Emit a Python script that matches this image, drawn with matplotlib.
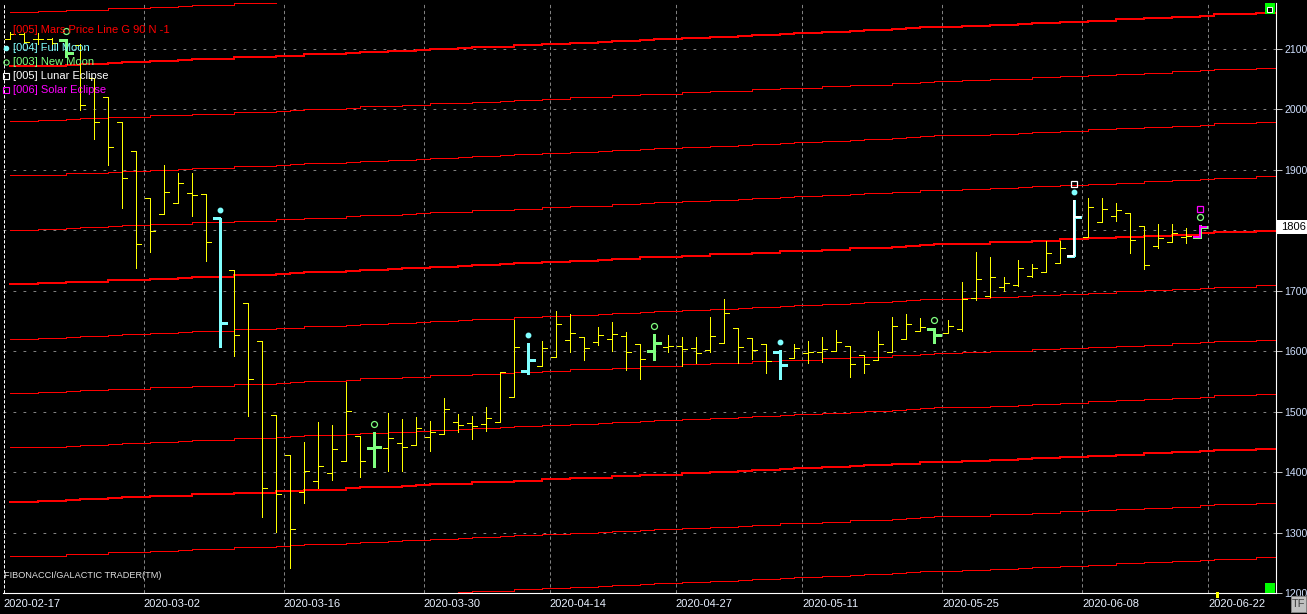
import matplotlib
matplotlib.use('Agg')
import matplotlib.pyplot as plt
from matplotlib.patches import Rectangle
from matplotlib.lines import Line2D
from matplotlib import transforms
import numpy as np

W, H = 1307, 614

# date ticks (bar index -> label)
tick_idx = [0, 10, 20, 30, 39, 48, 57, 67, 77, 86]
tick_lbl = ['2020-02-17', '2020-03-02', '2020-03-16', '2020-03-30', '2020-04-14',
            '2020-04-27', '2020-05-11', '2020-05-25', '2020-06-08', '2020-06-22']

# daily OHLC bars
opens = [2117, 2125, 2117, 2117, 2115, 2106, 2052, 2020, 1979, 1931,
         1853, 1827, 1845, 1862, 1860, 1820, 1734, 1680, 1617, 1495,
         1429, 1367, 1386, 1399, 1419, 1460, 1440, 1440, 1448, 1445,
         1458, 1463, 1483, 1482, 1480, 1483, 1525, 1567, 1576, 1591,
         1619, 1624, 1615, 1620, 1625, 1612, 1601, 1607, 1609, 1606,
         1602, 1614, 1639, 1622, 1612, 1599, 1589, 1597, 1599, 1601,
         1609, 1594, 1586, 1599, 1620, 1634, 1637, 1630, 1637, 1688,
         1691, 1706, 1710, 1724, 1731, 1746, 1758, 1789, 1814, 1824,
         1829, 1807, 1774, 1781, 1789, 1789]
highs = [2128, 2126, 2126, 2118, 2116, 2109, 2052, 2020, 1979, 1931,
         1853, 1908, 1895, 1895, 1860, 1820, 1734, 1680, 1617, 1495,
         1429, 1450, 1483, 1478, 1549, 1460, 1467, 1498, 1488, 1491,
         1485, 1523, 1496, 1493, 1508, 1566, 1652, 1614, 1617, 1667,
         1662, 1624, 1640, 1648, 1632, 1612, 1629, 1627, 1624, 1624,
         1657, 1686, 1639, 1622, 1612, 1602, 1612, 1617, 1624, 1635,
         1609, 1594, 1634, 1657, 1662, 1655, 1639, 1652, 1715, 1764,
         1756, 1723, 1751, 1744, 1782, 1782, 1850, 1853, 1853, 1845,
         1829, 1807, 1810, 1810, 1804, 1809]
lows = [2116, 2110, 2109, 2107, 2087, 1999, 1951, 1908, 1837, 1738,
        1764, 1827, 1845, 1824, 1749, 1607, 1592, 1493, 1325, 1301,
        1242, 1349, 1374, 1387, 1419, 1392, 1409, 1401, 1402, 1445,
        1435, 1463, 1467, 1455, 1468, 1483, 1525, 1563, 1576, 1591,
        1599, 1586, 1610, 1601, 1569, 1554, 1586, 1599, 1576, 1581,
        1599, 1614, 1581, 1587, 1564, 1554, 1589, 1581, 1582, 1601,
        1558, 1564, 1586, 1599, 1620, 1634, 1614, 1630, 1634, 1685,
        1690, 1700, 1708, 1723, 1731, 1746, 1758, 1789, 1814, 1815,
        1763, 1736, 1771, 1781, 1779, 1787]
closes = [2124, 2111, 2117, 2110, 2093, 2007, 1979, 1938, 1886, 1777,
          1799, 1863, 1878, 1858, 1781, 1647, 1627, 1554, 1374, 1363,
          1306, 1402, 1410, 1439, 1501, 1419, 1442, 1457, 1442, 1473,
          1467, 1505, 1478, 1477, 1490, 1566, 1607, 1586, 1606, 1645,
          1630, 1606, 1627, 1629, 1599, 1587, 1614, 1609, 1604, 1597,
          1625, 1663, 1607, 1602, 1584, 1577, 1606, 1599, 1604, 1615,
          1579, 1579, 1612, 1642, 1645, 1640, 1627, 1642, 1686, 1720,
          1723, 1713, 1738, 1738, 1763, 1771, 1822, 1839, 1835, 1834,
          1784, 1743, 1787, 1796, 1791, 1806]

# astro events (bar index)
full_moon = [15, 37, 55, 76]
new_moon = [4, 26, 46, 66, 85]
lunar_eclipse = [76]
solar_eclipse = [85]

# Mars price line (base harmonic), one value per bar incl. the empty right side
mars_base = [1711, 1711, 1712, 1712, 1714, 1715, 1715, 1717, 1718, 1718,
             1720, 1720, 1721, 1723, 1723, 1723, 1726, 1726, 1726, 1728,
             1729, 1731, 1731, 1731, 1733, 1735, 1735, 1736, 1737, 1738,
             1740, 1740, 1741, 1743, 1743, 1744, 1746, 1746, 1748, 1748,
             1750, 1750, 1751, 1753, 1753, 1755, 1756, 1756, 1758, 1758,
             1760, 1760, 1761, 1763, 1763, 1765, 1766, 1766, 1768, 1768,
             1770, 1771, 1771, 1773, 1774, 1776, 1777, 1777, 1778, 1778,
             1780, 1780, 1781, 1783, 1783, 1785, 1785, 1787, 1787, 1789,
             1789, 1791, 1791, 1793, 1793, 1795, 1797, 1797, 1797, 1799,
             1799]
mars_step = 90
mars_levels = range(-6, 6)

YELLOW = '#ffff00'
CYAN = '#80ffff'
GREEN = '#80ff80'
MAGENTA = '#ff00ff'

plt.rcParams['font.family'] = 'Liberation Sans'
plt.rcParams['lines.scale_dashes'] = False


def fx(x):
    return x / W


def fy(y):
    return 1 - y / H


fig = plt.figure(figsize=(W / 100, H / 100), dpi=100, facecolor='black')
ax = fig.add_axes([fx(3), fy(593), (1276 - 3) / W, (593 - 3) / H])
ax.set_facecolor('black')
ax.set_xlim(-0.5, 90.4)
ax.set_ylim(1200, 2176)

# grid
for p in range(1300, 2200, 100):
    ax.axhline(p, color='#808080', lw=0.72, dashes=(2, 5.2), zorder=1)
for i in tick_idx[1:]:
    ax.axvline(i - 0.45, color='#808080', lw=0.72, dashes=(2.4, 1.9), zorder=1)
ax.axvline(-0.45, color='white', lw=0.72, dashes=(2.4, 1.2), zorder=1)

# mars lines
mx = np.append(np.arange(len(mars_base)), len(mars_base))
my = np.append(mars_base, mars_base[-1])
for k in mars_levels:
    ax.plot(mx, my + mars_step * k, drawstyle='steps-post', color='#ff0000',
            lw=1.44 if k % 4 == 0 else 0.72, antialiased=False, zorder=2)

# bars
special = set(full_moon) | set(new_moon)
x = np.arange(len(opens))
reg = [i for i in x if i not in special]
w = 0.36
ax.vlines(x[reg], np.array(lows)[reg], np.array(highs)[reg], color=YELLOW,
          lw=0.72, antialiased=False, zorder=3)
ax.hlines(np.array(opens)[reg], x[reg] - w, x[reg], color=YELLOW, lw=0.72,
          antialiased=False, zorder=3)
ax.hlines(np.array(closes)[reg], x[reg], x[reg] + w, color=YELLOW, lw=0.72,
          antialiased=False, zorder=3)


def fat_bar(i, color, lw):
    ax.vlines(i, lows[i], highs[i], color=color, lw=lw, antialiased=False, zorder=4)
    ax.hlines(opens[i], i - 0.5, i, color=color, lw=lw, antialiased=False, zorder=4)
    ax.hlines(closes[i], i, i + 0.5, color=color, lw=lw, antialiased=False, zorder=4)


for i in full_moon:
    fat_bar(i, CYAN, 2.16)
for i in new_moon:
    fat_bar(i, GREEN, 2.16)
for i in lunar_eclipse:
    fat_bar(i, 'white', 1.44)
for i in solar_eclipse:
    fat_bar(i, MAGENTA, 1.44)


def mark(i, k, **kw):
    tr = transforms.offset_copy(ax.transData, fig=fig, x=0, y=8 * k, units='dots')
    ax.plot([i], [highs[i]], transform=tr, ls='none', zorder=5, clip_on=False, **kw)


for i in full_moon:
    mark(i, 1, marker='o', ms=3.2, mfc=CYAN, mec=CYAN)
for i in new_moon:
    mark(i, 1, marker='o', ms=4.3, mfc='none', mec=GREEN, mew=0.9)
for i in lunar_eclipse:
    mark(i, 2, marker='s', ms=4.3, mfc='none', mec='white', mew=0.9)
for i in solar_eclipse:
    mark(i, 2, marker='s', ms=4.3, mfc='none', mec=MAGENTA, mew=0.9)

# axes look
for s in ['left', 'top']:
    ax.spines[s].set_visible(False)
for s in ['bottom', 'right']:
    ax.spines[s].set_color('white')
    ax.spines[s].set_linewidth(0.8)
ax.yaxis.tick_right()
ax.set_yticks(range(1200, 2101, 100))
ax.tick_params(axis='y', length=4, width=0.72, color='#c0c0c0', pad=2,
               labelsize=7.6, labelcolor='#d0e0ff')
ax.set_xticks([i - 0.45 for i in tick_idx])
ax.set_xticklabels(tick_lbl, ha='left')
ax.tick_params(axis='x', length=0, pad=4, labelsize=8, labelcolor='#e8f0ff')

# legend
legend = [('[005] Mars Price Line G 90 N -1', '#ff0000', 30, None),
          ('[004] Full Moon', CYAN, 48, dict(marker='o', ms=3, mfc=CYAN, mec=CYAN)),
          ('[003] New Moon', GREEN, 62, dict(marker='o', ms=3.8, mfc='none', mec=GREEN, mew=0.8)),
          ('[005] Lunar Eclipse', 'white', 76, dict(marker='s', ms=3.8, mfc='none', mec='white', mew=0.8)),
          ('[006] Solar Eclipse', MAGENTA, 90, dict(marker='s', ms=3.8, mfc='none', mec=MAGENTA, mew=0.8))]
for txt, col, yy, mk in legend:
    fig.text(fx(13), fy(yy), txt, color=col, fontsize=8, va='center', zorder=6)
    if mk:
        fig.add_artist(Line2D([fx(6)], [fy(yy)], transform=fig.transFigure, ls='none', **mk))

fig.text(fx(4), fy(575), 'FIBONACCI/GALACTIC TRADER(TM)', color='#e0e0e0',
         fontsize=6.6, va='center')

# last price box
ydisp = ax.transData.transform((0, closes[-1]))[1]
fig.add_artist(Rectangle((1277, ydisp - 7), 30, 14, transform=transforms.IdentityTransform(),
                         facecolor='white', edgecolor='none', zorder=7))
fig.text(fx(1281), ydisp / H, f'{closes[-1]}', color='black', fontsize=8, va='center', zorder=8)


def px_rect(x0, y0, x1, y1, **kw):
    fig.add_artist(Rectangle((fx(x0), fy(y1)), (x1 - x0) / W, (y1 - y0) / H,
                             transform=fig.transFigure, **kw))


px_rect(1265, 3, 1275, 14, facecolor='#00ff00', edgecolor='none', zorder=7)
px_rect(1267, 7, 1272, 12, facecolor='black', edgecolor='white', lw=0.7, zorder=8)
px_rect(1265, 583, 1275, 593, facecolor='#00ff00', edgecolor='none', zorder=7)
px_rect(1216, 592, 1219, 598, facecolor=YELLOW, edgecolor='none', zorder=7)
px_rect(1291, 596, 1306, 612, facecolor='#c0c0c0', edgecolor='#808080', lw=0.7, zorder=7)
fig.text(fx(1298.5), fy(604), 'TF', color='#404040', fontsize=8, ha='center', va='center', zorder=8)

fig.savefig('out.png', dpi=100, facecolor='black')
